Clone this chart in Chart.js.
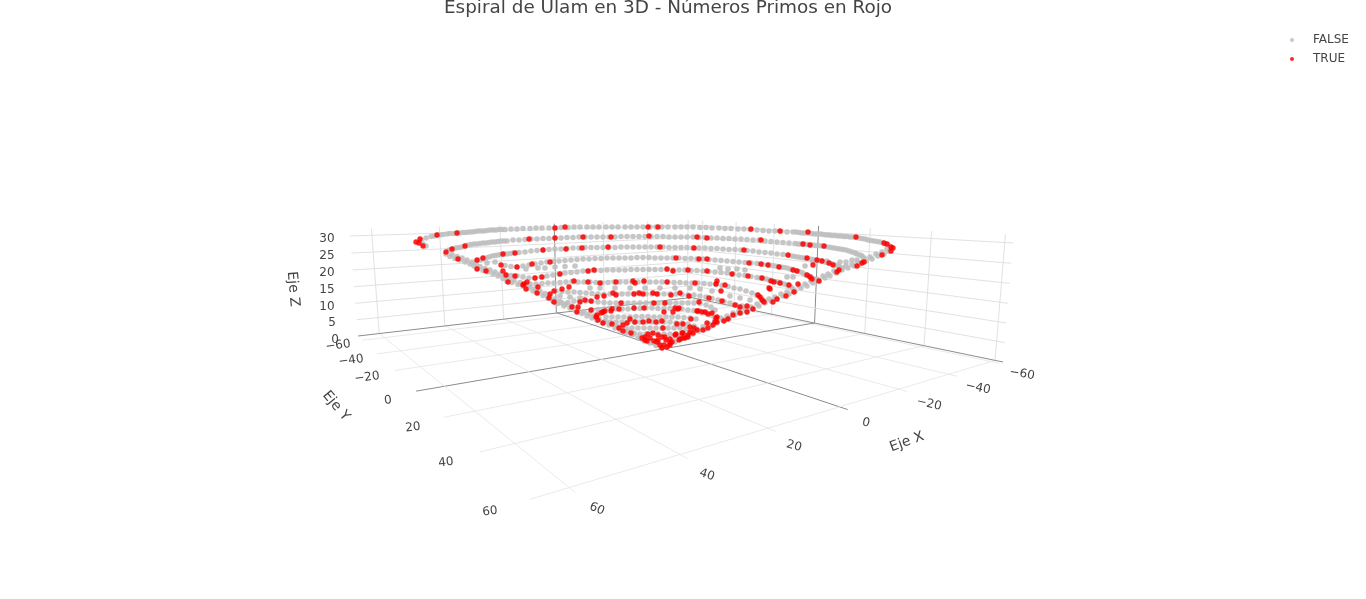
<!DOCTYPE html>
<html><head><meta charset="utf-8"><style>html,body{margin:0;padding:0;background:#fff;overflow:hidden}#w{width:1366px;height:599px}canvas{display:block}</style>
<script src="https://cdn.jsdelivr.net/npm/chart.js@4/dist/chart.umd.min.js"></script></head>
<body><div id="w"><canvas id="c"></canvas></div>
<script>
// Screen-plane readings of the projected 3D markers, one list per visible turn of the spiral.
const falseTop=[[426,246],[423,244],[421,240],[426,238],[431,236.5],[437,235],[443,234.5],[450,233.5],[457,233],[463,232.5],[469,232],[475,231.5],[481,231],[487,230.5],[493,230],[499,229.5],[505,229.5],[511,229],[517,229],[523,228.5],[530,228.5],[536,228],[542,228],[549,228],[555,228],[561,227.5],[568,227.5],[574,227],[580,227],[587,227],[593,227],[599,227],[606,227],[612,227],[618,227],[625,227],[631,227],[637,227],[643,227],[650,227],[656,227],[662,227],[668,227],[675,227],[681,227],[687,227],[693,227],[700,227.5],[706,227.5],[712,228],[719,228],[725,228.5],[731,228.5],[738,229],[744,229],[750,229.5],[757,230],[763,230.5],[769,231],[775,231],[781,231.5],[787,232],[793,232],[799,232.5],[805,233],[811,233.5],[817,234],[823,234.5],[829,235],[835,235.5],[841,236],[847,236.5],[853,237],[859,238],[865,239],[871,240.5],[877,241.5],[883,243],[888,245],[891,247]];
const falseSecond=[[449,250],[456,248],[462,247],[471,244.5],[477,244],[483,243],[489,242.5],[495,242],[501,241],[507,241],[513,240],[519,240],[525,239.5],[531,239],[537,239],[543,238.5],[549,238.5],[555,238],[561,238],[567,237.5],[573,237.5],[579,237],[585,237],[591,237],[597,237],[603,237],[609,237],[615,237],[621,236.5],[627,236.5],[633,236.5],[639,236.5],[645,236.5],[651,236.5],[657,236.5],[663,236.5],[669,237],[675,237],[681,237],[687,237],[693,237],[699,237.5],[705,237.5],[711,238],[717,238],[723,238.5],[729,238.5],[735,239],[741,239],[747,239.5],[753,240],[759,240],[765,241],[771,241.5],[777,242],[783,242.5],[789,243],[795,243.5],[801,244],[807,244.5],[813,245],[819,245.5],[825,246.5],[831,247.5],[837,248.5],[843,249.5],[849,251],[855,253],[860,255],[864,258],[864,261]];
const falseThird=[[477,261],[483,259],[489,257],[495,255.5],[501,254.5],[507,254],[513,253],[519,252.5],[525,252],[531,251],[537,250.5],[543,250],[549,249.5],[555,249],[561,249],[567,248.5],[573,248],[579,248],[585,247.5],[591,247.5],[597,247.5],[603,247.5],[609,247.5],[615,247.5],[621,247],[627,247],[633,247],[639,247],[645,247],[651,247],[657,247],[663,247],[669,247.5],[675,247.5],[681,247.5],[687,247.5],[693,248],[699,248],[705,248],[711,248.5],[717,248.5],[723,249],[729,249.5],[735,249.5],[741,250],[747,250.5],[753,251],[759,252],[765,252.5],[771,253],[777,254],[783,254.5],[789,255.5],[795,256.5],[801,257.5],[807,258.5],[813,259.5],[819,260.5],[825,262],[831,263.5],[837,265.5],[842,268]];
const falseFourth=[[487,263],[495,262],[505,265.5],[511,266.5],[517,267],[523,266],[529,265],[535,264],[541,263],[547,262],[553,261.5],[559,261],[565,260.5],[571,260],[577,259.5],[583,259],[589,259],[595,258.5],[601,258.5],[607,258],[613,258],[619,258],[625,258],[631,258],[637,257.5],[643,257.5],[649,257.5],[655,258],[661,258],[667,258],[673,258],[679,258],[685,258.5],[691,258.5],[697,259],[703,259],[709,259.5],[715,260],[721,260.5],[727,261],[733,261.5],[739,262],[745,262.5],[751,263],[757,263.5],[763,264.5],[769,265],[775,266],[781,267],[787,268],[793,269.5],[799,271.5],[804,274],[809,276],[814,279]];
const falseFifth=[[506,275],[511,275.5],[517,276],[523,277],[529,278],[535,278],[541,277],[547,276],[553,275],[559,274],[565,273],[571,272.5],[577,272],[583,271],[589,271],[595,270.5],[601,270.5],[607,270],[613,270],[619,270],[625,270],[631,269.5],[637,269.5],[643,269.5],[649,269.5],[655,269.5],[661,269.5],[667,269.5],[673,270],[679,270],[685,270],[691,270.5],[697,270.5],[703,271],[709,271.5],[715,272],[721,272.5],[727,273],[733,274],[739,275],[745,275.5],[751,276.5],[757,277.5],[763,278.5],[769,280],[775,281.5],[781,283],[787,285],[791,287]];
const falseSparse=[[526,269],[538,268],[545,268],[555,267],[565,266.5],[575,266],[720,268],[728,269],[737,269],[745,270],[787,277],[793,277],[805,266],[813,262],[827,261],[840,262],[846,262],[852,260],[857,260],[590,288],[600,288],[615,288],[630,288],[645,288],[660,288],[675,288],[690,288],[700,289],[712,291],[560,296],[570,297],[580,298],[730,296],[740,298],[750,300]];
const falseSixth=[[530,284],[536,284],[542,283.5],[548,283],[554,283],[560,282.5],[566,282],[572,281.5],[578,282],[584,282],[590,282],[596,282.5],[602,283],[608,282.5],[614,282],[620,282],[626,282],[632,282],[638,282],[644,282],[650,282],[656,282],[662,282],[668,282],[674,282.5],[680,282.5],[686,283],[692,283],[698,283],[704,283.5],[710,284],[716,284.5],[722,285.5],[728,286.5],[734,288],[740,289],[746,291],[752,293],[757,295],[761,298],[764,301]];
const falseSeventh=[[556,291],[562,291.5],[568,292],[574,292],[580,292.5],[586,293],[592,293.5],[598,294],[604,294.5],[610,294],[616,294],[622,294],[628,294],[634,294],[640,294],[646,294],[652,294],[658,294],[664,294],[670,294],[676,294],[682,294.5],[688,295],[694,295],[700,296],[706,297],[712,298.5],[718,300],[724,301.5],[730,303],[736,305],[742,306],[748,308]];
const falseEighth=[[556,303],[562,303],[568,302.5],[574,301],[580,301],[586,301],[592,301.5],[598,302],[604,302.5],[610,303],[616,303],[622,303],[628,303],[634,303],[640,303],[646,303],[652,303],[658,303],[664,303],[670,303],[676,303],[682,303],[688,303],[694,303],[700,303.5],[706,305],[711,307],[715,310]];
const falseNinth=[[592,310],[598,309.5],[604,309],[610,309],[616,309],[622,309],[628,309],[634,308.5],[640,308.5],[646,308],[652,308],[658,308.5],[664,308.5],[670,308.5],[676,309],[682,309],[688,310],[694,310.5],[700,311],[706,312.5],[711,315],[715,318]];
const falseInner=[[606,317],[612,317],[618,317],[624,317],[630,317],[636,316.5],[642,316.5],[648,316.5],[654,317],[660,317],[666,317],[672,317],[678,317],[684,317.5],[690,318],[696,319],[604,322],[610,322],[616,322],[622,322],[628,322],[634,322],[640,322],[646,322],[652,322],[658,322],[664,322],[670,322],[676,323],[682,323],[688,324],[694,326],[620,328],[626,328],[632,328],[638,328],[644,328],[650,328],[656,328],[662,328],[668,328],[674,328],[680,328],[686,329],[692,330],[634,334],[640,334],[646,334],[652,334],[658,334],[664,334],[670,334],[676,335],[682,335]];
const falseLeftEdge=[[446,254],[450,256.5],[455,258.5],[460,260],[465,262],[470,264],[474,266],[478,268.5],[483,270.5],[488,272],[493,274],[498,276],[503,278.5],[507,281],[512,282.5],[518,284.5],[523,286],[528,288.5],[533,291],[538,293],[543,295.5],[548,298],[553,301],[558,303.5],[564,306],[570,308],[576,311],[582,313.5],[587,316],[592,318],[597,320.5],[603,323],[609,325],[615,328],[620,330],[626,333],[632,335],[638,338],[644,341],[650,343],[656,345.5],[661,347.5]];
const falseRightEdge=[[889,251],[884,254],[878,256],[872,259],[866,261],[860,264],[854,266],[848,268],[842,270],[836,273],[830,276],[825,278],[819,281],[813,283],[807,286],[801,288],[795,291],[789,294],[783,296],[777,299],[771,301],[765,303],[759,306],[753,309],[747,311],[741,313],[735,315],[729,318],[723,320],[717,323],[711,326],[705,329],[699,331],[693,334],[687,337],[681,339],[675,342],[669,345]];
const falseBandEnds=[[434,236],[440,235],[447,234],[454,233.5],[460,233],[466,232.5],[472,232],[478,231],[484,231],[490,230],[496,230],[502,229.5],[796,232],[802,233],[808,233],[814,234],[820,234],[826,235],[832,235.5],[838,236],[844,236.5],[850,237],[856,237.5],[862,238.5],[868,240],[874,241],[880,242],[886,244],
[453,249],[459,247.5],[465,246],[468,245],[474,244],[480,243.5],[486,243],[492,242],[498,241.5],[504,241],[798,244],[804,244],[810,245],[816,245.5],[822,246],[828,247],[834,248],[840,249],[846,250],[852,252],[857,254],[862,256],
[480,260],[486,258],[492,256],[498,255],[504,254],[510,253.5],[792,256],[798,257],[804,258],[810,259],[816,260],[822,261],[828,263],[834,264.5],[839,266.5],
[772,265.5],[778,266.5],[784,267.5],[790,269],[796,270.5],[802,272.5],[806,275],[811,277],[760,278],[766,279],[772,280.5],[778,282],[784,284],[789,286]];
const falseLeftInner=[[452,254.5],[457,256.5],[462,258],[467,260],[472,262],[476,264],[480,266.5],[485,268.5],[490,270],[495,272],[500,274],[505,276.5],[509,279],[514,280.5],[520,282.5],[525,284],[530,286.5],[535,289],[540,291],[545,293.5],[550,296],[555,299],[560,301.5],[566,304],[572,306],[578,309],[584,311.5],[589,314],[594,316],[599,318.5],[605,321],[611,323],[617,326],[622,328],[628,331],[634,333],[640,336],[646,339],[652,341],[658,343.5]];
const falseRightInner=[[887,249],[882,252],[876,254],[870,257],[864,259],[858,262],[852,264],[846,266],[840,268],[834,271],[828,274],[823,276],[817,279],[811,281],[805,284],[799,286],[793,289],[787,292],[781,294],[775,297],[769,299],[763,301],[757,304],[751,307],[745,309],[739,311],[733,313],[727,316],[721,318],[715,321],[709,324],[703,327],[697,329],[691,332],[685,335],[679,337],[673,340]];
const trueBands=[[416,242],[420,239],[419,243],[423,246],[437,235],[457,233],[555,228],[565,227],[648,227],[658,227],[751,229],[780,231],[808,232],[856,237],[884,243],[887,244],[891,247],[893,248],[891,251],[882,255],
[529,239],[555,238],[583,237],[611,237],[649,236],[697,237],[707,238],[761,240],[803,244],[810,245],[824,246],
[446,252],[452,249],[465,246],[503,254],[515,253],[543,250],[566,249],[582,248],[608,247],[660,247],[694,248],[744,250],[788,255],[807,258],[817,260],[822,261],[829,263],[833,265],[864,262],[862,263],[857,266],[839,270],[837,272],
[458,259],[477,260],[483,258],[550,262],[532,264],[517,267],[501,265],[676,258],[699,259],[707,259],[749,263],[761,264],[768,265],[779,267],[813,265],
[477,269],[486,271],[503,271],[506,275],[515,276],[535,278],[542,277],[560,274],[588,271],[594,270],[667,269],[673,271],[688,270],[707,271],[732,274],[748,276],[793,270],[797,271],[807,275],[810,277],[812,279],[819,281],[762,278],[771,281],[774,282],[780,283],[789,285],[798,284]];
const trueMiddle=[[508,282],[527,282],[524,284],[574,281],[588,282],[600,283],[616,282],[633,281],[635,283],[644,281],[667,282],[695,283],[717,281],[716,284],[725,285],[523,285],[526,289],[538,287],[537,293],[554,291],[550,294],[549,298],[554,302],[562,289],[569,287],
[572,307],[578,307],[577,312],[580,302],[585,300],[591,301],[597,297],[604,296],[613,293],[616,295],[634,294],[639,293],[643,294],[653,293],[657,294],[621,303],[634,308],[644,308],[654,303],[591,310],[611,311],[605,311],[603,312],
[721,291],[709,298],[722,301],[689,296],[680,293],[671,295],[665,303],[699,302],[678,309],[673,312],[664,312],[697,311],[702,312],[708,314],[691,319],[735,305],[740,307],[740,313],[747,306],[747,312],[753,309],[733,315],[728,319],[724,321],[758,295],[760,297],[762,300],[764,302],[773,302],[777,299],[786,296],[794,292],[770,289],[769,288],[612,309],[619,309],[675,308],[679,308]];
const trueCore=[[662,348],[667,347],[670,345],[672,342],[670,339],[666,340],[662,337],[658,335],[653,333],[648,334],[645,337],[642,338],[645,340],[650,338],[658,340],[657,342],[675,335],[682,333],[688,335],[690,332],[685,338],[680,339],[647,341],[654,341],[664,345],[660,345],
[603,312],[601,313],[597,315],[596,317],[598,320],[603,323],[612,324],[627,323],[630,319],[635,322],[643,322],[649,321],[656,322],[662,321],[663,328],[623,325],[619,328],[623,331],[631,333],[677,324],[683,324],[690,327],[697,330],[707,323],[715,322],[717,317],[712,313],[705,312],[698,311],[716,318],[717,322],[713,325],[708,328],[703,330],[694,328],[693,333],[688,337],[683,338],[679,340],[676,334],[683,333],[665,337],[670,343]];
const falsePoints=[...falseTop,...falseSecond,...falseThird,...falseFourth,...falseFifth,...falseSparse,...falseSixth,...falseSeventh,...falseEighth,...falseNinth,...falseInner,...falseLeftEdge,...falseRightEdge,...falseBandEnds,...falseLeftInner,...falseRightInner];
const truePoints=[...trueBands,...trueMiddle,...trueCore];

const seriesNames=['FALSE','TRUE'];
const chartTitle='Espiral de Ulam en 3D - Números Primos en Rojo';
const xyTicks=[-60,-40,-20,0,20,40,60];
const zTicks=[0,5,10,15,20,25,30];
const axisNames=['Eje X','Eje Y','Eje Z'];
const X_MIN=-62,X_MAX=66,Y_MIN=-67,Y_MAX=62,Z_TOP=32;

// Floor and wall corners of the scene in the picture.
const L=[358,336],F=[536,505],R=[1003,362],B=[691,297.5];
const L30=[350,236],R30=[1013,243],B30=[692,225];

function solveH(d){ // unit-square homography
  const [p0,p1,p2,p3]=d;
  const dx1=p1[0]-p2[0],dx2=p3[0]-p2[0],sx=p0[0]-p1[0]+p2[0]-p3[0];
  const dy1=p1[1]-p2[1],dy2=p3[1]-p2[1],sy=p0[1]-p1[1]+p2[1]-p3[1];
  const den=dx1*dy2-dx2*dy1;
  const g=(sx*dy2-dx2*sy)/den,h=(dx1*sy-sx*dy1)/den;
  const a=p1[0]-p0[0]+g*p1[0],b=p3[0]-p0[0]+h*p3[0],c=p0[0];
  const e=p1[1]-p0[1]+g*p1[1],f=p3[1]-p0[1]+h*p3[1],k=p0[1];
  return (u,v)=>{const w=g*u+h*v+1;return [(a*u+b*v+c)/w,(e*u+f*v+k)/w];};
}
const floorH=solveH([L,F,R,B]);
const leftH=solveH([L,B,B30,L30]);
const rightH=solveH([R,B,B30,R30]);
const floorAt=(x,y)=>floorH((y-Y_MIN)/(Y_MAX-Y_MIN),(X_MAX-x)/(X_MAX-X_MIN));
const leftAt=(x,z)=>leftH((X_MAX-x)/(X_MAX-X_MIN),z/30);
const rightAt=(y,z)=>rightH((Y_MAX-y)/(Y_MAX-Y_MIN),z/30);

// Axis text: [text, picture x, picture y, rotation in degrees]
const yTickLabels=[['−60',338,345.5,-8],['−40',351,360.5,-8],['−20',367,377.5,-8],['0',388,400.5,-6],['20',413,427.5,-6],['40',446,462.5,-6],['60',490,511.5,-6]];
const xTickLabels=[['−60',1022,374,10],['−40',978,388,12],['−20',929,404,13],['0',866,423,14],['20',794,446,16],['40',707,475,18],['60',597,509,22]];
const zLabelX=[335,332,327,327,327,327,327],zLabelY=[339.5,322.5,306.5,289.5,272.5,255.5,238.5];
const zTickLabels=zTicks.map((t,i)=>[String(t),zLabelX[i],zLabelY[i],0]);
const axisTitles=[[axisNames[0],907,442,-20],[axisNames[1],336,406,50],[axisNames[2],293,289,85]];

const GRID='rgba(222,222,222,0.9)', ZERO='#8c8c8c';
const scenePlugin={
  id:'scene',
  afterLayout(c){const l=c.legend; if(l){l.left=1270;l.right=1366;l.top=27;l.bottom=81;l.width=96;l.height=54;}},
  beforeDatasetsDraw(c){
    const ctx=c.ctx,sx=c.scales.x,sy=c.scales.y;
    const seg=(a,b,col,w)=>{ctx.beginPath();ctx.moveTo(sx.getPixelForValue(a[0]),sy.getPixelForValue(a[1]));ctx.lineTo(sx.getPixelForValue(b[0]),sy.getPixelForValue(b[1]));ctx.strokeStyle=col;ctx.lineWidth=w;ctx.stroke();};
    ctx.save();
    for(const t of xyTicks){
      const col=t===0?ZERO:GRID;
      seg(floorAt(t,Y_MIN),floorAt(t,Y_MAX),t===0?ZERO:'rgba(232,232,232,0.9)',1);
      seg(floorAt(X_MIN,t),floorAt(X_MAX,t),t===0?ZERO:'rgba(232,232,232,0.9)',1);
      seg(leftAt(t,0),leftAt(t,Z_TOP),col,1);
      seg(rightAt(t,0),rightAt(t,Z_TOP),col,1);
    }
    for(const z of zTicks){
      const col=z===0?ZERO:GRID;
      seg(leftAt(X_MAX,z),leftAt(X_MIN,z),col,1);
      seg(rightAt(Y_MAX,z),rightAt(Y_MIN,z),col,1);
    }
    ctx.restore();
  },
  afterDatasetsDraw(c){
    const ctx=c.ctx,sx=c.scales.x,sy=c.scales.y;
    const put=([t,x,y,r],f)=>{ctx.save();ctx.translate(sx.getPixelForValue(x),sy.getPixelForValue(y));ctx.rotate(r*Math.PI/180);ctx.font=f;ctx.fillStyle='#444';ctx.textAlign='center';ctx.textBaseline='middle';ctx.fillText(t,0,0);ctx.restore();};
    [...xTickLabels,...yTickLabels,...zTickLabels].forEach(l=>put(l,'12px "DejaVu Sans"'));
    axisTitles.forEach(l=>put(l,'14px "DejaVu Sans"'));
  }
};
function dot(col){const d=document.createElement('canvas');d.width=d.height=6;const g=d.getContext('2d');g.fillStyle=col;g.beginPath();g.arc(3,3,2,0,7);g.fill();return d;}
const toXY=p=>p.map(([x,y])=>({x,y}));
const colours=['rgba(190,190,190,0.88)','rgba(255,0,0,0.85)'];
const TITLE_TOP=19.08;
Chart.defaults.font.family='"DejaVu Sans"';
new Chart(document.getElementById('c'),{
  type:'scatter',
  data:{datasets:[
    {label:seriesNames[0],data:toXY(falsePoints),order:2,backgroundColor:colours[0],borderWidth:0,pointRadius:2.8,pointHoverRadius:2.8},
    {label:seriesNames[1],data:toXY(truePoints),order:1,backgroundColor:colours[1],borderWidth:0,pointRadius:2.7,pointHoverRadius:2.7}
  ]},
  plugins:[scenePlugin],
  options:{
    responsive:true,maintainAspectRatio:false,animation:false,
    layout:{autoPadding:false,padding:{left:0,right:30,top:0,bottom:0}},
    scales:{
      x:{type:'linear',display:false,min:0,max:1336},
      y:{type:'linear',display:false,reverse:true,min:TITLE_TOP,max:599}
    },
    plugins:{
      tooltip:{enabled:false},
      title:{display:true,text:chartTitle,color:'#444',font:{size:18.4,weight:'normal',family:'"DejaVu Sans"'},padding:{top:-3,bottom:0}},
      legend:{display:true,position:'chartArea',align:'start',
        labels:{color:'#444',font:{size:12,family:'"DejaVu Sans"'},usePointStyle:true,pointStyleWidth:30,boxHeight:12,padding:7,
          generateLabels(c){return c.data.datasets.map((d,i)=>({text:d.label,datasetIndex:i,hidden:false,fontColor:'#444',fillStyle:colours[i],strokeStyle:colours[i],lineWidth:0,pointStyle:dot(colours[i])}));}}
      }
    }
  }
});
</script></body></html>
